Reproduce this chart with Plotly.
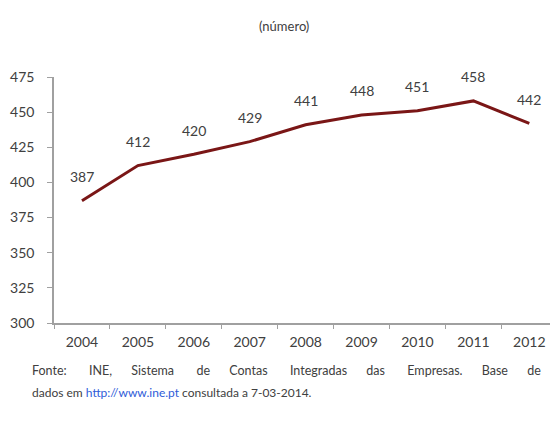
import plotly.graph_objects as go

# Número de empresas por ano
anos = ["2004", "2005", "2006", "2007", "2008", "2009", "2010", "2011", "2012"]
valores = [387, 412, 420, 429, 441, 448, 451, 458, 442]
y_ticks = [300, 325, 350, 375, 400, 425, 450, 475]

cinza = "#404040"
fonte = "Lato, 'Open Sans', sans-serif"

fig = go.Figure()
fig.add_trace(go.Scatter(
    x=anos, y=valores,
    mode="lines",
    line=dict(color="#7a1616", width=3),
    hoverinfo="skip",
))

# Rótulos de valor acima de cada ponto (posição pelo índice da categoria)
for i, v in enumerate(valores):
    fig.add_annotation(
        x=i, y=v, text=str(v), showarrow=False,
        yshift=24, xanchor="center", yanchor="middle",
        font=dict(family=fonte, size=14, color=cinza),
    )

fig.update_layout(
    width=550, height=426,
    margin=dict(l=54, r=0, t=77, b=103),
    paper_bgcolor="white", plot_bgcolor="white",
    showlegend=False,
    font=dict(family=fonte, size=14, color=cinza),
)

fig.update_xaxes(
    type="category",
    range=[-0.5, 8.37],
    tickson="boundaries",
    ticks="outside", ticklen=4, tickcolor="#a0a0a0",
    ticklabelstandoff=5,
    showline=True, linecolor="#a0a0a0", linewidth=1.5,
    showgrid=False, zeroline=False,
    tickfont=dict(family=fonte, size=14, color=cinza),
)
fig.update_yaxes(
    range=[300, 475],
    tickvals=y_ticks,
    ticks="outside", ticklen=5, tickcolor="#a0a0a0",
    ticklabelstandoff=10,
    showline=True, linecolor="#a0a0a0", linewidth=1.5,
    showgrid=False, zeroline=False,
    tickfont=dict(family=fonte, size=14, color=cinza),
)

# Unidade no topo
fig.add_annotation(
    text="(número)", xref="paper", yref="paper",
    x=(284 - 54) / 496, y=1 + (77 - 26) / 246,
    showarrow=False, xanchor="center", yanchor="middle",
    font=dict(family=fonte, size=13, color=cinza),
)

# Fonte dos dados (primeira linha justificada com espaços extra)
palavras = ["Fonte:", "INE,", "Sistema", "de", "Contas", "Integradas",
            "das", "Empresas.", "Base", "de"]
espacos = [7, 6, 7, 6, 7, 6, 7, 6, 6]
linha1 = palavras[0]
for n, p in zip(espacos, palavras[1:]):
    linha1 += " " * n + p
fig.add_annotation(
    text=linha1,
    xref="paper", yref="paper",
    x=(30 - 54) / 496, y=-(370 - 323) / 246,
    showarrow=False, xanchor="left", yanchor="middle",
    font=dict(family=fonte, size=12.5, color=cinza),
)
fig.add_annotation(
    text="dados em <span style='color:#2e5bd8'>http://www.ine.pt</span> consultada a 7-03-2014.",
    xref="paper", yref="paper",
    x=(30 - 54) / 496, y=-(392 - 323) / 246,
    showarrow=False, xanchor="left", yanchor="middle",
    font=dict(family=fonte, size=12, color=cinza),
)

fig.write_html("out.html")
